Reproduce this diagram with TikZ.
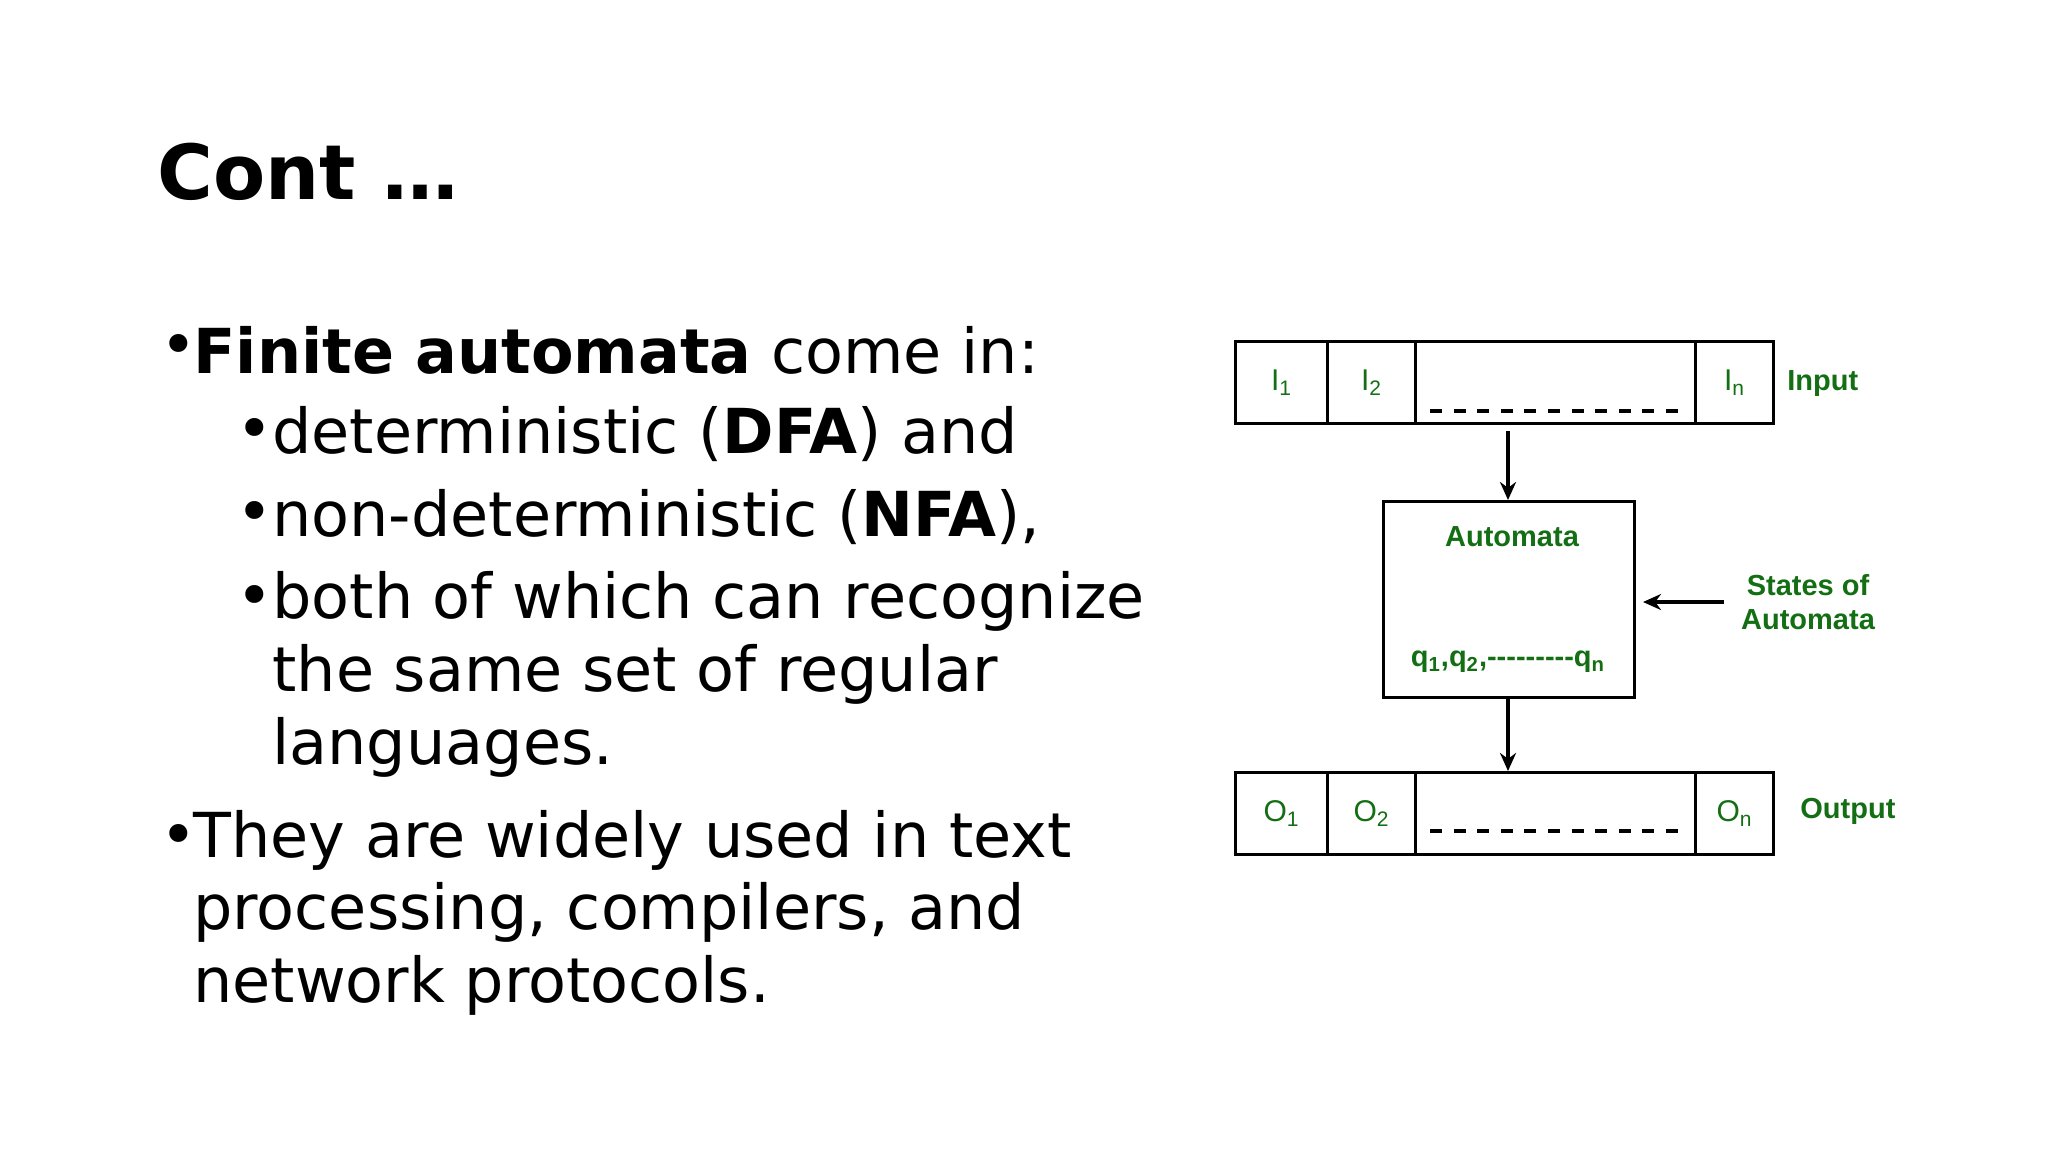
\documentclass[tikz,border=0pt]{standalone}
\usepackage{fontspec}
\setmainfont{DejaVu Sans}
\newfontfamily\diag{Liberation Sans}
\usetikzlibrary{arrows.meta}
\definecolor{dg}{RGB}{20,110,20}
\newcommand{\ssb}[1]{\textsubscript{#1}}
\tikzset{
  txt/.style={anchor=west,inner sep=0pt,font=\fontsize{31}{36}\selectfont},
  cell/.style={draw,line width=1.6pt,minimum height=41pt,inner sep=0pt},
  lab/.style={text=dg,font=\diag\bfseries\fontsize{14.5}{17}\selectfont,inner sep=0pt},
  clab/.style={text=dg,font=\diag\fontsize{15}{17}\selectfont,inner sep=0pt},
  arr/.style={-{Stealth[length=9pt,width=8pt]},line width=1.6pt},
  dsh/.style={line width=1.6pt,dash pattern=on 6pt off 5.8pt}
}
\begin{document}
\begin{tikzpicture}[x=0.5pt,y=-0.5pt]
\useasboundingbox (0,0) rectangle (2048,1152);
% text
\node[txt,font=\bfseries\fontsize{38}{44}\selectfont] (title) at (157,172) {Cont …};
\node[txt] (b1) at (160,350) {•};
\node[txt] (t1) at (193,350) {\textbf{Finite automata} come in:};
\node[txt] (b2) at (236,434) {•};
\node[txt] (t2) at (272,434) {deterministic (\textbf{DFA}) and};
\node[txt] (b3) at (236,517) {•};
\node[txt] (t3) at (272,517) {non-deterministic (\textbf{NFA}),};
\node[txt] (b4) at (236,601) {•};
\node[txt] (t4) at (272,601) {both of which can recognize};
\node[txt] (t5) at (272,674) {the same set of regular};
\node[txt] (t6) at (272,747) {languages.};
\node[txt] (b5) at (160,840) {•};
\node[txt] (t7) at (193,840) {They are widely used in text};
\node[txt] (t8) at (193,912) {processing, compilers, and};
\node[txt] (t9) at (193,985) {network protocols.};
% input tape
\node[cell,minimum width=46pt,anchor=north west] (i1) at (1234,340) {};
\node[cell,minimum width=44pt,anchor=north west] (i2) at (1326,340) {};
\node[cell,minimum width=140pt,anchor=north west] (imid) at (1414,340) {};
\node[cell,minimum width=39pt,anchor=north west] (in) at (1694,340) {};
\node[clab] at (i1) {I\ssb{1}};
\node[clab] at (i2) {I\ssb{2}};
\node[clab] at (in) {I\ssb{n}};
\coordinate (ida) at (1430,411); \coordinate (idb) at (1678,411);
\draw[dsh] (ida) -- (idb);
\node[lab,anchor=west] (input) at (1787,384) {Input};
% automata
\node[draw,line width=1.6pt,minimum width=125.5pt,minimum height=98pt,anchor=north west,inner sep=0pt] (aut) at (1382,500) {};
\node[lab] (autl) at (1512,537) {Automata};
\node[lab] (ql) at (1508,662) {q\ssb{1},q\ssb{2},---------q\ssb{n}};
\node[lab,align=center] (states) at (1808,602) {States of\\Automata};
% output tape
\node[cell,minimum width=46pt,anchor=north west] (o1) at (1234,771) {};
\node[cell,minimum width=44pt,anchor=north west] (o2) at (1326,771) {};
\node[cell,minimum width=140pt,anchor=north west] (omid) at (1414,771) {};
\node[cell,minimum width=39pt,anchor=north west] (on) at (1694,771) {};
\node[clab] at (o1) {O\ssb{1}};
\node[clab] at (o2) {O\ssb{2}};
\node[clab] at (on) {O\ssb{n}};
\coordinate (oda) at (1430,831); \coordinate (odb) at (1678,831);
\draw[dsh] (oda) -- (odb);
\node[lab,anchor=west] (output) at (1800,811) {Output};
% arrows
\coordinate (a1s) at (1508,431);
\draw[arr] (a1s) -- (aut.north -| a1s);
\draw[arr] (aut.south -| a1s) -- (omid.north -| a1s);
\coordinate (a3s) at (1724,602); \coordinate (a3e) at (1643,602);
\draw[arr] (a3s) -- (a3e);
\end{tikzpicture}
\end{document}
